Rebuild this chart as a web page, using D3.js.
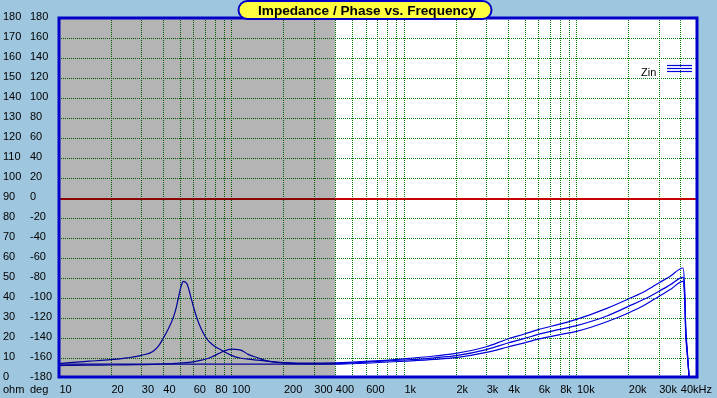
<!DOCTYPE html>
<html>
<head>
<meta charset="utf-8">
<script src="https://cdn.jsdelivr.net/npm/d3@7"></script>
<style>
  body { margin: 0; background: #9fc6df; }
  svg { display: block; font-family: "Liberation Sans", Arial, sans-serif; }
</style>
</head>
<body>
<svg id="chart" width="717" height="398"></svg>
<script>
// frequencies (Hz) shared by the three impedance curves
const freq = [10, 12, 15, 20, 25, 30, 35, 38, 40, 43, 45.5, 47.5, 49.2, 51, 52.6, 55, 58, 60, 63, 67, 72, 78, 88,
  100, 112, 125, 143, 160, 200, 285, 400, 600, 1000,
  1500, 2000, 3000, 4000, 5000, 6000, 8000, 10000, 15000, 20000, 25000, 30000, 35000, 41500, 42400, 43000, 43800, 45000];

// impedance (ohm)
const zinA = [7.2, 7.8, 8.4, 9.2, 10.1, 11.3, 13.3, 16.3, 19.5, 24.5, 29.2, 34.2, 40, 45.8, 48.3, 47.3, 40.8, 36, 30, 24.2, 19.5, 16.5, 13.8,
  11.3, 10, 9.4, 8.9, 8.4, 7.7, 7.4, 7.6, 8.3, 9.6,
  11, 12.3, 15.6, 19.5, 22, 24.2, 26.9, 29.3, 34.8, 39.5, 43.4, 47.5, 50.9, 55, 45, 26, 15, 0.5];
const zinB = [6.2, 6.3, 6.4, 6.5, 6.6, 6.7, 6.8, 6.9, 7.0, 7.1, 7.2, 7.3, 7.4, 7.5, 7.6, 7.7, 7.9, 8.1, 8.4, 8.9, 9.6, 10.8, 13.0,
  14.4, 14.1, 11.8, 10.0, 8.6, 7.6, 7.1, 7.2, 7.9, 9.0,
  10.1, 11.2, 14.2, 17.5, 19.8, 21.8, 24.3, 26.2, 31, 35.8, 39.6, 43.3, 46.6, 50.3, 42, 24, 14, 0.5];
const zinC = [6.9, 6.9, 6.9, 6.9, 6.9, 6.9, 6.9, 6.9, 6.9, 6.9, 6.9, 6.9, 6.9, 6.9, 6.9, 6.9, 6.9, 6.9, 6.9, 6.9, 6.9, 6.9, 6.9,
  6.9, 6.9, 6.9, 6.9, 6.9, 6.9, 6.9, 6.9, 7.4, 8.4,
  9.3, 10.2, 12.8, 15.5, 17.6, 19.4, 21.7, 23.3, 28.1, 32.5, 36.6, 40.8, 44.2, 48.3, 40, 22, 13, 0.5];

const xTickValues = [10, 20, 30, 40, 60, 80, 100, 200, 300, 400, 600, 1000, 2000, 3000, 4000, 6000, 8000, 10000, 20000, 30000, 40000];
const xTickLabels = ["10", "20", "30", "40", "60", "80", "100", "200", "300", "400", "600", "1k", "2k", "3k", "4k", "6k", "8k", "10k", "20k", "30k", "40kHz"];
const ohmTicks = [0, 10, 20, 30, 40, 50, 60, 70, 80, 90, 100, 110, 120, 130, 140, 150, 160, 170, 180];
const degTicks = [-180, -160, -140, -120, -100, -80, -60, -40, -20, 0, 20, 40, 60, 80, 100, 120, 140, 160, 180];
const shadedBand = [10, 400];
const phaseZero = 0;

const svg = d3.select("#chart");
const plot = {left: 59, right: 697, top: 18, bottom: 378};

const x = d3.scaleLog([10, 50000], [plot.left, plot.right]);
const y = d3.scaleLinear([0, 180], [plot.bottom, plot.top]);
const yDeg = d3.scaleLinear([-180, 180], [plot.bottom, plot.top]);

svg.append("clipPath").attr("id", "clip")
  .append("rect")
  .attr("x", plot.left).attr("y", plot.top)
  .attr("width", plot.right - plot.left).attr("height", plot.bottom - plot.top);

// plot background
svg.append("rect")
  .attr("x", plot.left).attr("y", plot.top)
  .attr("width", plot.right - plot.left).attr("height", plot.bottom - plot.top)
  .attr("fill", "#fff");

// grid
let gridFreqs = [];
for (let dec = 10; dec <= 10000; dec *= 10) {
  for (let m = 1; m <= 9; m++) {
    let f = dec * m;
    if (f > 10 && f < 50000) gridFreqs.push(f);
  }
}
const grid = svg.append("g").attr("stroke", "#008000").attr("stroke-dasharray", "1,1");
grid.selectAll("line.v").data(gridFreqs).join("line")
  .attr("class", "v")
  .attr("x1", d => Math.round(x(d)) + 0.5).attr("x2", d => Math.round(x(d)) + 0.5)
  .attr("y1", plot.top).attr("y2", plot.bottom);
grid.selectAll("line.h").data(ohmTicks.filter(d => d > 0 && d < 180 && d !== 90)).join("line")
  .attr("class", "h")
  .attr("x1", plot.left).attr("x2", plot.right)
  .attr("y1", d => Math.round(y(d)) + 0.5).attr("y2", d => Math.round(y(d)) + 0.5);

// phase zero line
svg.append("line")
  .attr("x1", plot.left).attr("x2", plot.right)
  .attr("y1", yDeg(phaseZero) + 1).attr("y2", yDeg(phaseZero) + 1)
  .attr("stroke", "#c80000").attr("stroke-width", 2);

// curves
const line = d3.line().x(d => x(d[0])).y(d => y(d[1])).curve(d3.curveMonotoneX);
const curves = svg.append("g").attr("clip-path", "url(#clip)");
[zinA, zinB, zinC].forEach(z => {
  curves.append("path")
    .datum(freq.map((f, i) => [f, z[i]]))
    .attr("d", line)
    .attr("fill", "none")
    .attr("stroke", "#0000dc")
    .attr("stroke-width", 1.2);
});

// gray band over low frequencies
svg.append("rect")
  .attr("x", x(shadedBand[0])).attr("y", plot.top)
  .attr("width", x(shadedBand[1]) - x(shadedBand[0])).attr("height", plot.bottom - plot.top)
  .attr("fill", "#b4b4b4")
  .style("mix-blend-mode", "multiply");

// frame
svg.append("rect")
  .attr("x", plot.left).attr("y", plot.top)
  .attr("width", plot.right - plot.left).attr("height", plot.bottom - 1 - plot.top)
  .attr("fill", "none").attr("stroke", "#0000c8").attr("stroke-width", 3);

// left labels
const ohmAxis = svg.append("g").attr("transform", "translate(3,0)")
  .call(d3.axisRight(y).tickValues(ohmTicks).tickFormat(d => String(d)).tickSize(0).tickPadding(0));
const degAxis = svg.append("g").attr("transform", "translate(30,0)")
  .call(d3.axisRight(yDeg).tickValues(degTicks).tickFormat(d => String(d)).tickSize(0).tickPadding(0));
[ohmAxis, degAxis].forEach(a => {
  a.select(".domain").remove();
  a.selectAll("text").attr("dy", "0.1em").attr("font-size", 11).attr("fill", "#000")
    .attr("font-family", "Liberation Sans, Arial, sans-serif");
});

// bottom labels
const xAxis = svg.append("g").attr("transform", `translate(0,${plot.bottom})`)
  .call(d3.axisBottom(x).tickValues(xTickValues).tickFormat((d, i) => xTickLabels[i]).tickSize(0).tickPadding(0));
xAxis.select(".domain").remove();
xAxis.selectAll("text").attr("y", 15).attr("dy", 0).attr("text-anchor", "start")
  .attr("font-size", 11).attr("fill", "#000").attr("font-family", "Liberation Sans, Arial, sans-serif");

svg.append("text").attr("x", 3).attr("y", 393).attr("font-size", 11).text("ohm");
svg.append("text").attr("x", 30).attr("y", 393).attr("font-size", 11).text("deg");

// title
svg.append("rect")
  .attr("x", 238.5).attr("y", 1).attr("width", 253).attr("height", 18).attr("rx", 9)
  .attr("fill", "#ffff40").attr("stroke", "#0000c8").attr("stroke-width", 2);
svg.append("text")
  .attr("x", 258).attr("y", 15)
  .attr("font-size", 13.5).attr("font-weight", "bold")
  .attr("textLength", 218).attr("lengthAdjust", "spacingAndGlyphs")
  .text("Impedance / Phase vs. Frequency");

// legend
svg.append("text").attr("x", 641).attr("y", 76).attr("font-size", 11).text("Zin");
svg.selectAll("line.leg").data([65.5, 68.5, 71.5]).join("line")
  .attr("class", "leg")
  .attr("x1", 667).attr("x2", 692).attr("y1", d => d).attr("y2", d => d)
  .attr("stroke", "#0000dc").attr("stroke-width", 1.2);
</script>
</body>
</html>
